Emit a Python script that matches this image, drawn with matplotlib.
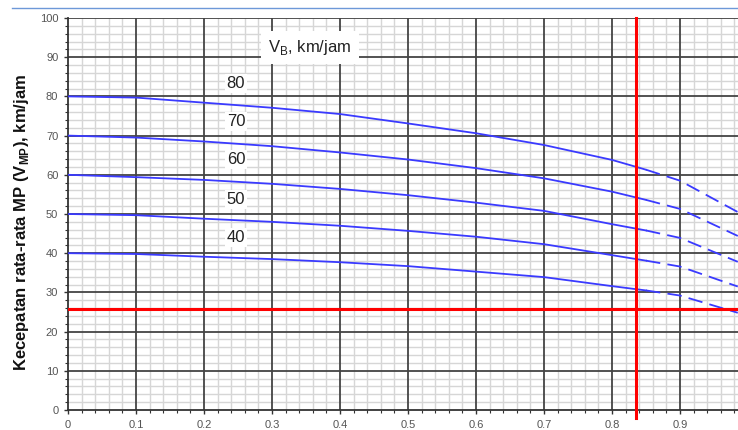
import matplotlib
matplotlib.use("Agg")
import matplotlib.pyplot as plt
from matplotlib.ticker import FixedLocator
from matplotlib.lines import Line2D

plt.rcParams['font.family'] = ['Liberation Sans', 'DejaVu Sans']
plt.rcParams['mathtext.fontset'] = 'custom'
plt.rcParams['mathtext.rm'] = 'Liberation Sans'
plt.rcParams['mathtext.bf'] = 'Liberation Sans:bold'

# ---- data ----
x_solid = [0.0, 0.1, 0.2, 0.3, 0.4, 0.5, 0.6, 0.7, 0.8, 0.85]
x_dash = [0.85, 0.9, 0.985]

vb_labels = ["80", "70", "60", "50", "40"]
solid_80 = [80.0, 79.7, 78.4, 77.1, 75.5, 73.1, 70.6, 67.6, 63.8, 61.3]
solid_70 = [70.0, 69.5, 68.5, 67.3, 65.7, 63.9, 61.7, 59.1, 55.7, 53.6]
solid_60 = [60.0, 59.4, 58.7, 57.7, 56.4, 54.8, 52.9, 50.8, 47.4, 45.8]
solid_50 = [50.0, 49.7, 48.8, 48.0, 47.0, 45.7, 44.2, 42.3, 39.5, 38.1]
solid_40 = [40.0, 39.8, 39.1, 38.5, 37.7, 36.7, 35.3, 33.9, 31.6, 30.5]
dash_80 = [61.3, 58.5, 50.5]
dash_70 = [53.6, 51.3, 44.4]
dash_60 = [45.8, 43.9, 37.8]
dash_50 = [38.1, 36.6, 31.5]
dash_40 = [30.5, 29.2, 24.8]

label_x = 0.247
label_y = [83.4, 73.5, 63.8, 53.6, 43.9]

red_x = 0.835
red_y = 25.8

x_ticks = [0, 0.1, 0.2, 0.3, 0.4, 0.5, 0.6, 0.7, 0.8, 0.9]
x_ticklabels = ["0", "0.1", "0.2", "0.3", "0.4", "0.5", "0.6", "0.7", "0.8", "0.9"]
y_ticks = [0, 10, 20, 30, 40, 50, 60, 70, 80, 90, 100]

solids = [solid_80, solid_70, solid_60, solid_50, solid_40]
dashes = [dash_80, dash_70, dash_60, dash_50, dash_40]

# ---- figure ----
fig = plt.figure(figsize=(7.38, 4.30), dpi=100)
ax = fig.add_axes([68/738, 1-410/430, 1-68/738, (410-18)/430])
ax.set_xlim(0, 0.9853)
ax.set_ylim(0, 100)

x_minor = [i * 0.02 for i in range(0, 50) if i % 5 != 0]
y_minor = [i * 2 for i in range(0, 51) if i % 5 != 0]
ax.set_xticks(x_ticks)
ax.set_xticklabels(x_ticklabels)
ax.set_yticks(y_ticks)
ax.xaxis.set_minor_locator(FixedLocator(x_minor))
ax.yaxis.set_minor_locator(FixedLocator(y_minor))

# grid drawn manually so that the dark major lines sit above the light minor lines
for xv in x_minor:
    ax.axvline(xv, color='#d6d6d6', lw=1.0, zorder=0.5)
for yv in y_minor:
    ax.axhline(yv, color='#d6d6d6', lw=1.0, zorder=0.5)
for xv in x_ticks[1:]:
    ax.axvline(xv, color='#444444', lw=1.3, zorder=1)
for yv in y_ticks[1:]:
    ax.axhline(yv, color='#444444', lw=1.3, zorder=1)

ax.tick_params(which='major', length=3, width=1.0, color='#333333', labelsize=8,
               labelcolor='#555555', direction='out', pad=4)
ax.tick_params(which='minor', length=2, width=0.8, color='#333333', direction='out')

for s in ['top', 'right']:
    ax.spines[s].set_visible(False)
for s in ['left', 'bottom']:
    ax.spines[s].set_color('#333333')
    ax.spines[s].set_linewidth(1.3)

blue = '#3a3aff'
for ys, yd in zip(solids, dashes):
    ax.plot(x_solid, ys, color=blue, lw=1.3, zorder=3)
    ax.plot(x_dash, yd, color=blue, lw=1.3, dashes=(8, 4), zorder=3)

for lab, ly in zip(vb_labels, label_y):
    ax.text(label_x, ly, lab, fontsize=12, ha='center', va='center', color='#222222',
            bbox=dict(facecolor='white', edgecolor='none', pad=1.5), zorder=4)

ax.text(0.356, 92.6, r'V$_\mathrm{B}$, km/jam', fontsize=12, ha='center', va='center',
        color='#222222', bbox=dict(facecolor='white', edgecolor='none', pad=5), zorder=4)

# red reference lines
ax.axhline(red_y, color='#ff0000', lw=2.2, zorder=5)
ax.plot([red_x, red_x], [-2, 100], color='#ff0000', lw=2.2, zorder=5, clip_on=False)

fig.text(21.5/738, 1-222/430, r'Kecepatan rata-rata MP (V$_\mathbf{MP}$), km/jam',
         fontsize=12, fontweight='bold', color='#111111', rotation=90,
         ha='center', va='center')

# thin blue rule at the top of the page
fig.add_artist(Line2D([12/738, 1.0], [1-8/430, 1-8/430], color='#6d98d8', lw=1.0,
                      transform=fig.transFigure))

fig.savefig('out.png', dpi=100)
